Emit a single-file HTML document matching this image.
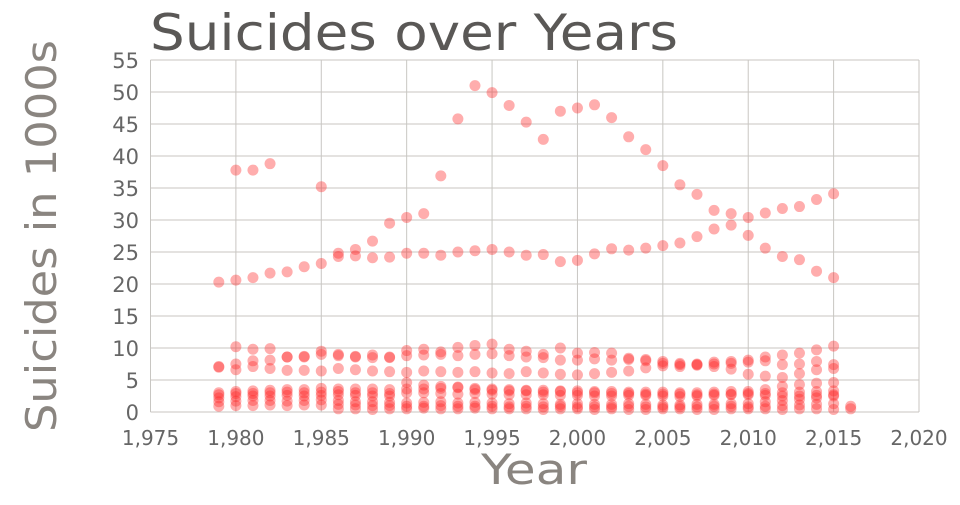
<!DOCTYPE html>
<html><head><meta charset="utf-8"><style>
body{margin:0;background:#fff;}
svg text{font-family:"DejaVu Sans","Liberation Sans",sans-serif;}
</style></head><body>
<svg id="chart" width="960" height="500" xmlns="http://www.w3.org/2000/svg">
<text x="150" y="50" font-size="50" fill="#5a5856" textLength="528" lengthAdjust="spacingAndGlyphs">Suicides over Years</text>
<text transform="translate(56,236) rotate(-90)" text-anchor="middle" font-size="42" fill="#8a8580" textLength="392" lengthAdjust="spacingAndGlyphs">Suicides in 1000s</text>
<text x="534" y="484" text-anchor="middle" font-size="42" fill="#8a8580" textLength="106" lengthAdjust="spacingAndGlyphs">Year</text>
<g id="grid"></g>
<g id="ticks"></g>
<g id="points"></g>
</svg>
<script>
const years=[1979,1980,1981,1982,1983,1984,1985,1986,1987,1988,1989,1990,1991,1992,1993,1994,1995,1996,1997,1998,1999,2000,2001,2002,2003,2004,2005,2006,2007,2008,2009,2010,2011,2012,2013,2014,2015,2016];
const xTicks=[1975,1980,1985,1990,1995,2000,2005,2010,2015,2020];
const yTicks=[0,5,10,15,20,25,30,35,40,45,50,55];
const seriesA=[null,37.8,37.8,38.8,null,null,35.2,24.3,25.4,26.7,29.5,30.4,31.0,36.9,45.8,51.0,49.9,47.9,45.3,42.6,47.0,47.5,48.0,46.0,43.0,41.0,38.5,35.5,34.0,31.5,31.0,27.6,25.6,24.3,23.8,22.0,21.0,null];
const seriesB=[20.3,20.6,21.0,21.7,21.9,22.7,23.2,24.8,24.4,24.1,24.2,24.8,24.8,24.5,25.0,25.2,25.4,25.0,24.5,24.6,23.5,23.7,24.7,25.5,25.3,25.6,26.0,26.4,27.4,28.6,29.2,30.4,31.1,31.8,32.1,33.2,34.1,null];
const seriesC=[null,10.2,9.8,9.9,8.6,8.7,9.5,9.0,8.7,8.9,8.6,9.6,9.8,9.4,10.1,10.4,10.6,9.8,9.5,9.0,10.0,9.2,9.3,9.2,8.4,8.2,7.9,7.6,7.5,7.8,7.9,8.1,8.6,8.9,9.2,9.7,10.3,null];
const seriesD=[7.1,7.5,8.0,8.1,8.6,8.6,9.0,8.8,8.6,8.5,8.5,8.8,8.9,9.0,8.8,9.0,9.1,8.8,8.6,8.5,8.1,8.1,8.3,8.1,8.2,8.0,7.6,7.4,7.4,7.5,7.6,7.8,8.0,7.4,7.5,7.9,7.4,null];
const seriesE=[7.0,6.6,7.1,6.8,6.5,6.5,6.4,6.8,6.6,6.4,6.3,6.2,6.4,6.3,6.2,6.3,6.1,6.0,6.3,6.1,5.9,5.8,6.0,6.2,6.4,6.9,7.2,7.1,7.3,7.1,6.7,5.9,5.6,5.4,6.0,6.6,6.8,null];
const seriesF=[3.0,3.2,3.3,3.4,3.5,3.5,3.7,3.6,3.6,3.6,3.5,3.6,3.6,3.7,3.8,3.7,3.6,3.5,3.4,3.4,3.3,3.3,3.2,3.2,3.1,3.1,3.1,3.0,3.0,3.1,3.2,3.2,3.5,4.0,4.3,4.5,4.6,null];
const seriesG=[2.7,2.9,2.9,3.0,3.1,3.0,3.1,3.2,3.0,3.0,2.9,4.6,4.2,4.0,3.9,3.5,3.4,3.3,3.3,3.1,3.2,3.0,3.0,2.9,2.9,2.8,2.8,2.8,2.7,2.8,2.8,2.9,2.9,3.0,3.1,3.2,3.3,null];
const seriesH=[2.2,2.4,2.5,2.5,2.6,2.5,2.6,2.7,2.6,2.5,2.5,3.0,3.0,2.9,2.8,2.9,2.8,2.7,2.7,2.7,2.6,2.6,2.5,2.5,2.6,2.6,2.5,2.4,2.5,2.6,2.7,2.7,2.6,2.5,2.5,2.6,2.7,null];
const seriesI=[1.6,1.7,1.8,1.8,1.7,1.8,1.9,1.8,1.6,1.6,1.5,1.4,1.5,1.6,1.4,1.5,1.4,1.3,1.4,1.3,1.2,1.3,1.2,1.2,1.3,1.2,1.1,1.1,1.2,1.2,1.3,1.3,1.6,1.8,2.0,2.2,2.5,null];
const seriesJ=[0.9,1.0,1.0,1.1,1.0,1.1,1.1,1.2,1.1,1.0,1.0,0.9,0.9,1.0,0.9,0.9,0.9,0.8,0.9,0.8,0.9,0.8,0.8,0.8,0.9,0.8,0.8,0.8,0.8,0.9,0.9,0.8,0.9,1.0,1.1,1.2,1.3,0.9];
const seriesK=[null,null,null,null,null,null,null,0.5,0.5,0.4,0.5,0.5,0.6,0.5,0.5,0.6,0.5,0.5,0.5,0.4,0.5,0.5,0.4,0.5,0.4,0.4,0.5,0.5,0.4,0.4,0.5,0.5,0.5,0.4,0.5,0.5,0.4,0.5];
const allSeries=[seriesA,seriesB,seriesC,seriesD,seriesE,seriesF,seriesG,seriesH,seriesI,seriesJ,seriesK];
const X0=150.5,X1=919,Y0=412,Y1=60;
const xs=v=>X0+(v-1975)/(2020-1975)*(X1-X0);
const ys=v=>Y0-(v/55)*(Y0-Y1);
const NS='http://www.w3.org/2000/svg';
function mk(t,a){const e=document.createElementNS(NS,t);for(const k in a)e.setAttribute(k,a[k]);return e;}
const grid=document.getElementById('grid'),ticks=document.getElementById('ticks'),pts=document.getElementById('points');
yTicks.forEach(v=>{
 const l=mk('line',{x1:X0,x2:X1,y1:ys(v),y2:ys(v),stroke:'#c8c6c2','stroke-width':1});
 
 
 grid.appendChild(l);
 const t=mk('text',{x:139,y:ys(v)+8,'text-anchor':'end','font-size':21,fill:'#666'});t.textContent=v;
 
 
 ticks.appendChild(t);
});
xTicks.forEach(v=>{
 const l=mk('line',{x1:xs(v),x2:xs(v),y1:Y1,y2:Y0,stroke:'#c8c6c2','stroke-width':1});
 
 
 grid.appendChild(l);
 const t=mk('text',{x:xs(v),y:445,'text-anchor':'middle','font-size':20,fill:'#666'});t.textContent=v.toLocaleString('en-US');
 
 
 ticks.appendChild(t);
});
allSeries.forEach(s=>{s.forEach((v,i)=>{if(v===null)return;
 const c=mk('circle',{cx:xs(years[i]),cy:ys(v),r:5.5,fill:'rgba(255,40,40,0.38)'});
 
 
 pts.appendChild(c);});});
</script>
</body></html>
